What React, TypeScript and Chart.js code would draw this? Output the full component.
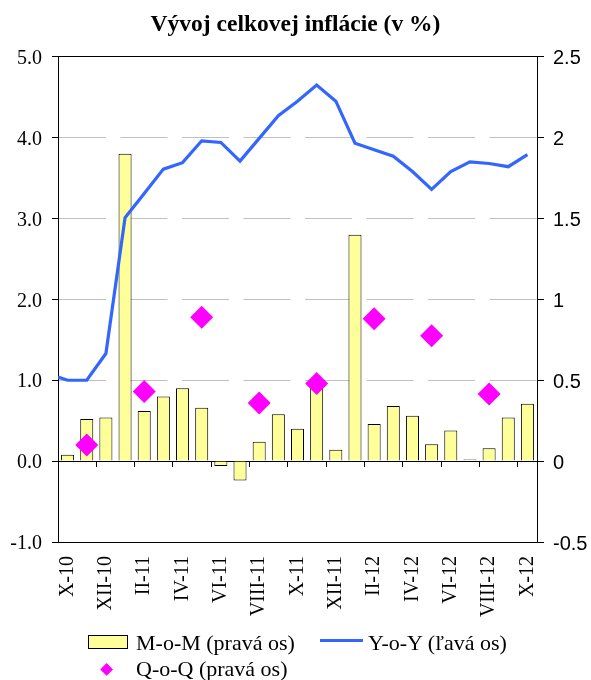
import React, { useEffect, useRef } from 'react';
import { Chart, registerables } from 'chart.js';

Chart.register(...registerables);

// ---- data ----
const months = [
  'X-10', 'XI-10', 'XII-10', 'I-11', 'II-11', 'III-11', 'IV-11', 'V-11', 'VI-11',
  'VII-11', 'VIII-11', 'IX-11', 'X-11', 'XI-11', 'XII-11', 'I-12', 'II-12', 'III-12',
  'IV-12', 'V-12', 'VI-12', 'VII-12', 'VIII-12', 'IX-12', 'X-12',
];

// M-o-M (right axis)
const momValues = [
  0.04, 0.26, 0.27, 1.9, 0.31, 0.4, 0.45, 0.33, -0.03, -0.12, 0.12, 0.29, 0.2,
  0.48, 0.07, 1.4, 0.23, 0.34, 0.28, 0.105, 0.19, 0.01, 0.08, 0.27, 0.355,
];

// Y-o-Y (left axis)
const yoyValues = [
  1.0, 1.0, 1.33, 3.01, 3.31, 3.61, 3.69, 3.96, 3.94, 3.71, 3.99, 4.27, 4.45,
  4.65, 4.45, 3.93, 3.85, 3.77, 3.58, 3.36, 3.58, 3.7, 3.68, 3.64, 3.79,
];
// the Y-o-Y line starts at the left edge of the plot (half a month before X-10)
const yoyStartValue = 1.04;
const yoyStartPosition = -0.5;

// Q-o-Q (right axis)
const qoqMonths = ['XI-10', 'II-11', 'V-11', 'VIII-11', 'XI-11', 'II-12', 'V-12', 'VIII-12'];
const qoqValues = [0.1, 0.43, 0.89, 0.36, 0.48, 0.88, 0.775, 0.415];

const leftAxisRange = [-1, 5];
const rightAxisRange = [-0.5, 2.5];

const titleText = 'Vývoj celkovej inflácie (v %)';
const momLabel = 'M-o-M (pravá os)';
const yoyLabel = 'Y-o-Y (ľavá os)';
const qoqLabel = 'Q-o-Q (pravá os)';

const SERIF = "'Liberation Serif', 'Times New Roman', serif";
const SANS = "'Liberation Sans', Arial, sans-serif";

const BAR_COLOR = '#FFFF99';
const LINE_COLOR = '#3366FF';
const DIAMOND_COLOR = '#FF00FF';

export default function App() {
  const canvasRef = useRef<HTMLCanvasElement | null>(null);

  useEffect(() => {
    const canvas = canvasRef.current;
    if (!canvas) return;

    const chart = new Chart(canvas, {
      type: 'bar',
      data: {
        labels: months,
        datasets: [
          {
            type: 'bar',
            label: momLabel,
            data: momValues,
            xAxisID: 'x',
            yAxisID: 'y2',
            backgroundColor: BAR_COLOR,
            borderColor: '#000000',
            borderWidth: 1,
            grouped: false,
            barPercentage: 0.68,
            categoryPercentage: 1,
            order: 3,
          } as any,
          {
            type: 'line',
            label: yoyLabel,
            data: [
              { x: yoyStartPosition, y: yoyStartValue },
              ...yoyValues.map((v, i) => ({ x: i, y: v })),
            ],
            xAxisID: 'xl',
            yAxisID: 'y',
            borderColor: LINE_COLOR,
            backgroundColor: LINE_COLOR,
            borderWidth: 3.2,
            pointRadius: 0,
            tension: 0,
            fill: false,
            order: 2,
          } as any,
          {
            type: 'line',
            label: qoqLabel,
            data: qoqMonths.map((m, i) => ({ x: m, y: qoqValues[i] })),
            xAxisID: 'x',
            yAxisID: 'y2',
            showLine: false,
            pointStyle: 'rectRot',
            pointRadius: 11.5,
            pointBackgroundColor: DIAMOND_COLOR,
            pointBorderColor: DIAMOND_COLOR,
            pointBorderWidth: 0,
            order: 1,
          } as any,
        ],
      },
      options: {
        responsive: false,
        animation: false,
        events: [],
        layout: { padding: { left: 0, right: 0, top: 0, bottom: 50 } },
        plugins: {
          legend: { display: false },
          tooltip: { enabled: false },
          title: {
            display: true,
            text: titleText,
            color: '#000000',
            font: { family: SERIF, size: 23.5, weight: 'bold' },
            padding: { top: 11, bottom: 17.5 },
          },
        },
        scales: {
          x: {
            type: 'category',
            position: 'bottom',
            offset: true,
            grid: { display: false, drawTicks: false },
            border: { display: false },
            ticks: {
              autoSkip: false,
              minRotation: 90,
              maxRotation: 90,
              padding: 14,
              color: '#000000',
              font: { family: SERIF, size: 20 },
              callback: (_v: any, i: number) => (i % 2 === 0 ? months[i] : ''),
            },
            afterFit: (s: any) => {
              s.height = 88;
            },
          },
          xt: {
            type: 'category',
            axis: 'x',
            position: { y: 0 } as any,
            offset: true,
            grid: {
              offset: true,
              drawOnChartArea: false,
              drawTicks: true,
              tickLength: 6,
              color: (ctx: any) => (ctx.index !== undefined && ctx.index % 2 === 0 ? '#000000' : 'rgba(0,0,0,0)'),
              tickColor: (ctx: any) => (ctx.index !== undefined && ctx.index % 2 === 0 ? '#000000' : 'rgba(0,0,0,0)'),
            },
            border: { display: false },
            ticks: { display: false, autoSkip: false },
          },
          xl: {
            type: 'linear',
            axis: 'x',
            display: false,
            offset: false,
            min: yoyStartPosition,
            max: months.length - 0.5,
            grid: { offset: false },
          },
          y: {
            type: 'linear',
            position: 'left',
            min: leftAxisRange[0],
            max: leftAxisRange[1],
            ticks: {
              stepSize: 1,
              padding: 10,
              labelOffset: 2,
              color: '#000000',
              font: { family: SERIF, size: 20 },
              callback: (v: any) => Number(v).toFixed(1),
            },
            grid: {
              drawTicks: true,
              tickLength: 6,
              tickColor: '#000000',
              lineWidth: 1,
              color: (ctx: any) => {
                const v = ctx.tick ? ctx.tick.value : NaN;
                if (v === leftAxisRange[0] || v === leftAxisRange[1] || v === 0) return '#000000';
                return '#c0c0c0';
              },
            },
            border: {
              display: true,
              color: '#000000',
              width: 1,
              dash: (ctx: any) => {
                const v = ctx.tick ? ctx.tick.value : NaN;
                if (v > leftAxisRange[0] && v < leftAxisRange[1] && v !== 0) return [47, 14.5];
                return [];
              },
            } as any,
            afterFit: (s: any) => {
              s.width = 58;
            },
          },
          y2: {
            type: 'linear',
            position: 'right',
            min: rightAxisRange[0],
            max: rightAxisRange[1],
            ticks: {
              stepSize: 0.5,
              padding: 9,
              labelOffset: 2,
              color: '#000000',
              font: { family: SANS, size: 20 },
              callback: (v: any) => String(v),
            },
            grid: {
              drawOnChartArea: false,
              drawTicks: true,
              tickLength: 7,
              tickColor: '#000000',
              color: '#000000',
            },
            border: { display: true, color: '#000000', width: 1 },
            afterFit: (s: any) => {
              s.width = 54;
            },
          },
        },
      } as any,
    });

    return () => {
      chart.destroy();
    };
  }, []);

  const textStyle: React.CSSProperties = {
    position: 'absolute',
    fontFamily: SERIF,
    fontSize: 22,
    lineHeight: '26px',
    color: '#000',
    whiteSpace: 'nowrap',
  };

  return (
    <div style={{ position: 'absolute', left: 0, top: 0, width: 591, height: 680, background: '#fff' }}>
      <canvas ref={canvasRef} width={591} height={680} style={{ display: 'block', width: 591, height: 680 }} />
      {/* legend */}
      <div
        style={{
          position: 'absolute',
          left: 88,
          top: 635,
          width: 40,
          height: 14,
          boxSizing: 'border-box',
          background: BAR_COLOR,
          border: '1px solid #000',
        }}
      />
      <div style={{ ...textStyle, left: 136, top: 629.5 }}>{momLabel}</div>
      <div
        style={{
          position: 'absolute',
          left: 320,
          top: 638.5,
          width: 43,
          height: 3,
          background: LINE_COLOR,
        }}
      />
      <div style={{ ...textStyle, left: 368, top: 629.5 }}>{yoyLabel}</div>
      <div
        style={{
          position: 'absolute',
          left: 106.7 - 4.6,
          top: 669.3 - 4.6,
          width: 9.2,
          height: 9.2,
          background: DIAMOND_COLOR,
          transform: 'rotate(45deg)',
        }}
      />
      <div style={{ ...textStyle, left: 136, top: 656 }}>{qoqLabel}</div>
    </div>
  );
}
